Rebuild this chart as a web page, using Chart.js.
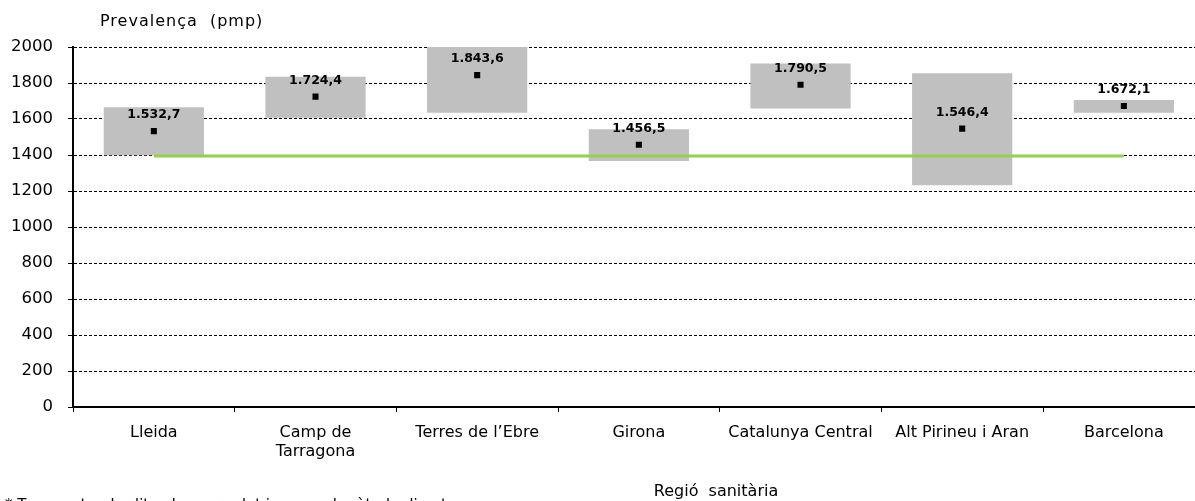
<!DOCTYPE html>
<html>
<head>
<meta charset="utf-8">
<script src="https://cdn.jsdelivr.net/npm/chart.js@4"></script>
<style>
html, body { margin:0; padding:0; overflow:hidden; background:#fff; width:1195px; height:501px; }
#wrap { position:absolute; left:0; top:0; width:1209px; height:501px; }
</style>
</head>
<body>
<div id="wrap"><canvas id="c"></canvas></div>
<script>
const categories = ['Lleida', ['Camp de', 'Tarragona'], 'Terres de l\u2019Ebre', 'Girona', 'Catalunya Central', 'Alt Pirineu i Aran', 'Barcelona'];
const rateValues = [1532.7, 1724.4, 1843.6, 1456.5, 1790.5, 1546.4, 1672.1];
const lowerBound = [1398, 1607, 1635, 1367, 1659, 1232, 1635];
const upperBound = [1665, 1835, 2060, 1543, 1909, 1854, 1706];
const referenceValue = [1394, 1394, 1394, 1394, 1394, 1394, 1394];
const yTicks = [0, 200, 400, 600, 800, 1000, 1200, 1400, 1600, 1800, 2000];
const yTitle = 'Prevalença  (pmp)';
const xTitle = 'Regió  sanitària';
const footnote = '* Taxes estandarditzades per edat i sexe pel mètode directe';

const FONT = '"DejaVu Sans", sans-serif';

function fmt(v) {
  const parts = v.toFixed(1).split('.');
  const intPart = parts[0].replace(/\B(?=(\d{3})+(?!\d))/g, '.');
  return intPart + ',' + parts[1];
}

const textPlugin = {
  id: 'texts',
  afterDatasetsDraw(chart) {
    const ctx = chart.ctx;
    const meta = chart.getDatasetMeta(2);
    ctx.save();
    ctx.fillStyle = '#000';
    ctx.font = 'bold 12.5px ' + FONT;
    ctx.textAlign = 'center';
    ctx.textBaseline = 'middle';
    meta.data.forEach((pt, i) => {
      ctx.fillText(fmt(rateValues[i]), pt.x, pt.y - 16);
    });
    ctx.restore();
  },
  afterDraw(chart) {
    const ctx = chart.ctx;
    ctx.save();
    ctx.fillStyle = '#000';
    ctx.font = '16px ' + FONT;
    ctx.textBaseline = 'middle';
    ctx.textAlign = 'left';
    ctx.letterSpacing = '1px';
    ctx.fillText(yTitle, 100, 22);
    ctx.letterSpacing = '0px';
    ctx.textAlign = 'center';
    ctx.fillText(xTitle, 716, 492);
    ctx.textAlign = 'left';
    ctx.font = '15px ' + FONT;
    ctx.textBaseline = 'top';
    ctx.fillText(footnote, 5, 499);
    ctx.restore();
  }
};

new Chart(document.getElementById('c'), {
  data: {
    labels: categories,
    datasets: [
      {
        type: 'bar',
        data: lowerBound.map((l, i) => [l, upperBound[i]]),
        backgroundColor: '#C0C0C0',
        borderWidth: 0,
        barPercentage: 0.62,
        categoryPercentage: 1,
        order: 3
      },
      {
        type: 'line',
        data: referenceValue,
        borderColor: '#92D050',
        borderWidth: 3,
        pointRadius: 0,
        fill: false,
        order: 2
      },
      {
        type: 'line',
        data: rateValues,
        showLine: false,
        pointStyle: 'rect',
        pointRadius: 4.3,
        pointBackgroundColor: '#000',
        pointBorderWidth: 0,
        order: 1
      }
    ]
  },
  plugins: [textPlugin],
  options: {
    responsive: true,
    maintainAspectRatio: false,
    animation: false,
    events: [],
    layout: { padding: { top: 47, left: 0, right: 0, bottom: 0 } },
    plugins: { legend: { display: false }, tooltip: { enabled: false } },
    scales: {
      x: {
        type: 'category',
        offset: true,
        grid: { offset: true, drawOnChartArea: false, drawTicks: true, tickLength: 5, tickColor: '#000', tickWidth: 1 },
        border: { display: true, color: '#000', width: 2 },
        ticks: { color: '#000', font: { family: FONT, size: 16, lineHeight: 1.2 }, padding: 11, maxRotation: 0, autoSkip: false },
        afterFit(scale) { scale.height = 94; }
      },
      y: {
        min: 0,
        max: 2000,
        afterBuildTicks(scale) { scale.ticks = yTicks.map(v => ({ value: v })); },
        grid: { color: '#000', lineWidth: 1, tickLength: 5, tickColor: '#000', tickWidth: 1, tickBorderDash: [] },
        border: { display: true, color: '#000', width: 2, dash: [3, 2] },
        ticks: { color: '#000', font: { family: FONT, size: 16.5 }, padding: 15, callback: (v) => String(v) },
        afterFit(scale) { scale.width = 73; }
      }
    }
  }
});
</script>
</body>
</html>
